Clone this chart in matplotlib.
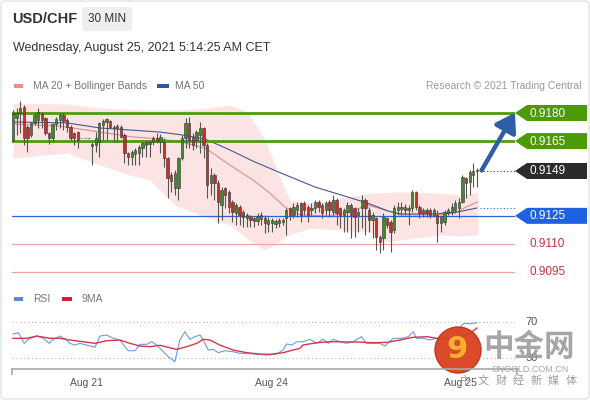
import numpy as np
import matplotlib
matplotlib.use("Agg")
import matplotlib.pyplot as plt
from matplotlib.patches import Polygon, Rectangle, Circle, FancyBboxPatch
from matplotlib.transforms import blended_transform_factory

plt.rcParams['font.family'] = ['Liberation Sans', 'DejaVu Sans']

# 30 min candles, USD/CHF (Aug 20 -> Aug 25)
opens = [
    0.91656, 0.91771, 0.91798, 0.91834, 0.91727, 0.91682, 0.91745, 0.91763, 0.91793, 0.91771,
    0.91691, 0.91665, 0.91739, 0.91763, 0.91789, 0.91763, 0.91727, 0.91691, 0.91697, 0.91668,
    0.91668, 0.91668, 0.91625, 0.91629, 0.91647, 0.91736, 0.91754, 0.91757, 0.91727, 0.91718,
    0.91727, 0.91682, 0.91584, 0.91566, 0.91579, 0.91584, 0.91611, 0.91629, 0.91632, 0.91643,
    0.91668, 0.91647, 0.91647, 0.91558, 0.91468, 0.91397, 0.91397, 0.91558, 0.91665, 0.91745,
    0.91673, 0.91656, 0.91682, 0.91718, 0.91629, 0.91424, 0.91468, 0.91424, 0.91308, 0.91397,
    0.91379, 0.91326, 0.91263, 0.91299, 0.91272, 0.91237, 0.91246, 0.91237, 0.91222, 0.91233,
    0.91240, 0.91205, 0.91210, 0.91205, 0.91210, 0.91215, 0.91237, 0.91290, 0.91255, 0.91281,
    0.91317, 0.91317, 0.91299, 0.91281, 0.91290, 0.91326, 0.91308, 0.91281, 0.91326, 0.91272,
    0.91335, 0.91290, 0.91255, 0.91272, 0.91308, 0.91290, 0.91255, 0.91290, 0.91335, 0.91281,
    0.91228, 0.91237, 0.91139, 0.91130, 0.91237, 0.91219, 0.91174, 0.91281, 0.91287, 0.91299,
    0.91281, 0.91290, 0.91376, 0.91299, 0.91263, 0.91281, 0.91281, 0.91255, 0.91255, 0.91210,
    0.91219, 0.91263, 0.91272, 0.91281, 0.91290, 0.91326, 0.91451, 0.91433, 0.91468, 0.91495,
]
highs = [
    0.91816, 0.91825, 0.91864, 0.91843, 0.91736, 0.91754, 0.91807, 0.91829, 0.91807, 0.91780,
    0.91700, 0.91745, 0.91780, 0.91798, 0.91798, 0.91771, 0.91736, 0.91700, 0.91704, 0.91668,
    0.91668, 0.91668, 0.91647, 0.91700, 0.91754, 0.91768, 0.91775, 0.91763, 0.91736, 0.91739,
    0.91736, 0.91691, 0.91593, 0.91602, 0.91611, 0.91629, 0.91647, 0.91656, 0.91656, 0.91679,
    0.91691, 0.91686, 0.91665, 0.91566, 0.91486, 0.91495, 0.91566, 0.91682, 0.91771, 0.91780,
    0.91691, 0.91709, 0.91754, 0.91727, 0.91638, 0.91504, 0.91477, 0.91442, 0.91406, 0.91406,
    0.91388, 0.91335, 0.91317, 0.91308, 0.91281, 0.91263, 0.91255, 0.91246, 0.91263, 0.91272,
    0.91255, 0.91246, 0.91237, 0.91233, 0.91237, 0.91240, 0.91290, 0.91299, 0.91317, 0.91326,
    0.91326, 0.91329, 0.91308, 0.91317, 0.91335, 0.91335, 0.91317, 0.91329, 0.91335, 0.91361,
    0.91344, 0.91299, 0.91290, 0.91326, 0.91317, 0.91299, 0.91290, 0.91361, 0.91344, 0.91299,
    0.91272, 0.91246, 0.91148, 0.91263, 0.91246, 0.91228, 0.91308, 0.91326, 0.91326, 0.91312,
    0.91308, 0.91388, 0.91383, 0.91308, 0.91290, 0.91290, 0.91290, 0.91290, 0.91281, 0.91255,
    0.91281, 0.91290, 0.91317, 0.91335, 0.91344, 0.91468, 0.91460, 0.91495, 0.91531, 0.91504,
]
lows = [
    0.91647, 0.91682, 0.91691, 0.91629, 0.91593, 0.91673, 0.91736, 0.91718, 0.91718, 0.91682,
    0.91632, 0.91647, 0.91709, 0.91718, 0.91709, 0.91700, 0.91656, 0.91629, 0.91611, 0.91668,
    0.91668, 0.91668, 0.91522, 0.91593, 0.91566, 0.91656, 0.91656, 0.91718, 0.91647, 0.91647,
    0.91665, 0.91531, 0.91522, 0.91522, 0.91522, 0.91522, 0.91566, 0.91566, 0.91566, 0.91629,
    0.91638, 0.91584, 0.91513, 0.91344, 0.91379, 0.91361, 0.91335, 0.91549, 0.91611, 0.91611,
    0.91602, 0.91611, 0.91584, 0.91558, 0.91344, 0.91361, 0.91335, 0.91210, 0.91228, 0.91290,
    0.91263, 0.91219, 0.91201, 0.91201, 0.91192, 0.91192, 0.91192, 0.91192, 0.91201, 0.91201,
    0.91157, 0.91165, 0.91165, 0.91183, 0.91192, 0.91201, 0.91148, 0.91228, 0.91237, 0.91246,
    0.91219, 0.91255, 0.91219, 0.91255, 0.91263, 0.91272, 0.91237, 0.91255, 0.91246, 0.91255,
    0.91201, 0.91183, 0.91165, 0.91165, 0.91130, 0.91139, 0.91165, 0.91183, 0.91148, 0.91165,
    0.91130, 0.91067, 0.91050, 0.91067, 0.91183, 0.91058, 0.91157, 0.91255, 0.91255, 0.91255,
    0.91201, 0.91272, 0.91281, 0.91237, 0.91246, 0.91246, 0.91237, 0.91246, 0.91112, 0.91165,
    0.91201, 0.91255, 0.91255, 0.91263, 0.91237, 0.91317, 0.91344, 0.91361, 0.91406, 0.91406,
]
closes = [
    0.91798, 0.91798, 0.91829, 0.91665, 0.91665, 0.91745, 0.91789, 0.91807, 0.91763, 0.91691,
    0.91665, 0.91739, 0.91768, 0.91789, 0.91757, 0.91727, 0.91665, 0.91665, 0.91656, 0.91668,
    0.91668, 0.91668, 0.91632, 0.91665, 0.91745, 0.91757, 0.91768, 0.91727, 0.91718, 0.91732,
    0.91673, 0.91584, 0.91566, 0.91593, 0.91602, 0.91620, 0.91638, 0.91647, 0.91647, 0.91668,
    0.91650, 0.91673, 0.91558, 0.91451, 0.91436, 0.91477, 0.91558, 0.91665, 0.91745, 0.91656,
    0.91629, 0.91700, 0.91718, 0.91629, 0.91415, 0.91468, 0.91424, 0.91326, 0.91388, 0.91361,
    0.91299, 0.91272, 0.91308, 0.91255, 0.91246, 0.91255, 0.91228, 0.91222, 0.91251, 0.91255,
    0.91210, 0.91228, 0.91228, 0.91222, 0.91228, 0.91228, 0.91281, 0.91255, 0.91299, 0.91308,
    0.91255, 0.91281, 0.91255, 0.91294, 0.91326, 0.91299, 0.91263, 0.91317, 0.91281, 0.91335,
    0.91263, 0.91255, 0.91281, 0.91308, 0.91255, 0.91246, 0.91272, 0.91335, 0.91290, 0.91228,
    0.91255, 0.91139, 0.91112, 0.91246, 0.91201, 0.91165, 0.91290, 0.91299, 0.91299, 0.91281,
    0.91294, 0.91379, 0.91299, 0.91263, 0.91281, 0.91263, 0.91255, 0.91281, 0.91210, 0.91246,
    0.91272, 0.91281, 0.91299, 0.91317, 0.91326, 0.91460, 0.91424, 0.91486, 0.91490, 0.91490,
]

# indicator lines (candle index, value)
band_idx = [0, 15, 24.2, 32.5, 38.1, 45, 52, 60.3, 65.3, 70.1, 74.5, 77, 82.6, 90.9,
            99.3, 103.4, 107.6, 118.7, 124.3, 129.3]
band_upper = [0.91853, 0.91848, 0.91827, 0.91820, 0.91816, 0.91816, 0.91822, 0.91843,
              0.91805, 0.91656, 0.91442, 0.91335, 0.91319, 0.91345, 0.91372, 0.91375,
              0.91378, 0.91372, 0.91361, 0.91378]
band_lower = [0.91559, 0.91586, 0.91522, 0.91468, 0.91440, 0.91308, 0.91255, 0.91201,
              0.91125, 0.91067, 0.91120, 0.91150, 0.91185, 0.91174, 0.91164, 0.91110,
              0.91121, 0.91148, 0.91142, 0.91148]

ma20_idx = [0, 13.1, 24.2, 33.4, 40.9, 46.7, 53.4, 60.3, 66.7, 71.4, 75.6, 79.8, 88.1,
            93.7, 98.7, 103.4, 107.9, 117.3, 122.9, 125.9, 129.2]
ma20 = [0.91741, 0.91730, 0.91698, 0.91672, 0.91661, 0.91645, 0.91613, 0.91522, 0.91442,
        0.91372, 0.91297, 0.91255, 0.91249, 0.91271, 0.91308, 0.91281, 0.91255, 0.91255,
        0.91265, 0.91297, 0.91324]

ma50_idx = [0, 15.0, 24.2, 40.9, 47.3, 53.4, 59.8, 66.7, 74.5, 84.0, 93.1, 99.3, 104.3,
            107.9, 117.3, 123.7, 129]
ma50 = [0.91752, 0.91747, 0.91720, 0.91698, 0.91682, 0.91661, 0.91607, 0.91543, 0.91479,
        0.91404, 0.91351, 0.91313, 0.91276, 0.91260, 0.91260, 0.91271, 0.91292]

rsi_idx = [0, 1.5, 2.1, 3.1, 4.3, 6.6, 8.4, 10.1, 11.2, 13.1, 14.9, 15.8, 17.2, 18.6, 20.5,
           22.8, 24.2, 26.0, 27.9, 29.7, 31.1, 32.1, 33.9, 35.3, 37.2, 38.6, 40.0, 41.8,
           43.2, 45.0, 46.4, 47.8, 49.2, 50.6, 52.0, 52.9, 54.3, 55.7, 57.1, 58.9, 61.2,
           63.1, 65.4, 67.7, 70.5, 73.3, 75.1, 76.1, 77.5, 78.9, 80.7, 82.6, 84.4, 86.3,
           87.7, 89.1, 90.9, 92.8, 94.6, 96.9, 98.3, 100.2, 102.0, 103.4, 105.7, 108.1,
           109.9, 111.3, 112.2, 114.1, 115.9, 117.8, 120.1, 122.0, 123.7, 124.8, 125.7,
           127.1, 129]
rsi = [56.7, 58.1, 53.7, 46.3, 50.8, 54.4, 51.9, 46.3, 50.8, 54.4, 50.0, 46.3, 44.4, 46.3,
       44.4, 41.9, 54.4, 55.6, 51.9, 50.0, 42.6, 38.1, 38.1, 45.2, 45.2, 48.1, 44.4, 37.0,
       31.4, 25.9, 50.0, 59.2, 50.8, 53.7, 55.6, 50.0, 38.9, 39.6, 35.9, 38.1, 37.0, 35.2,
       35.2, 34.1, 33.3, 34.4, 38.9, 45.6, 44.4, 48.0, 48.1, 50.8, 46.3, 50.8, 46.3, 50.8,
       48.1, 46.3, 48.1, 53.7, 46.3, 46.3, 46.3, 43.3, 51.9, 51.9, 53.7, 59.2, 51.9, 51.9,
       50.0, 51.9, 50.0, 47.8, 55.6, 66.7, 68.6, 68.1, 69.2]

ma9_idx = [0, 3.8, 6.6, 10.3, 13.1, 15.8, 19.5, 22.8, 26.0, 29.7, 32.5, 35.3, 38.1, 40.9,
           43.6, 45.5, 48.3, 51.1, 52.9, 54.8, 57.5, 61.2, 65.0, 68.7, 71.4, 75.1, 77.9,
           79.8, 80.6, 84.5, 88.1, 95.6, 100.1, 104.0, 107.6, 111.2, 115.1, 117.9, 121.5,
           124.8, 127.1, 129]
ma9 = [51.9, 51.9, 54.4, 51.9, 51.9, 50.0, 48.1, 46.3, 49.2, 50.0, 46.3, 43.3, 42.6, 44.1,
       41.4, 39.6, 42.6, 46.3, 50.8, 50.0, 44.4, 38.9, 35.9, 34.4, 34.1, 35.9, 38.9, 40.8,
       44.4, 47.0, 48.1, 47.8, 47.0, 47.4, 50.0, 53.0, 53.7, 51.9, 52.2, 54.4, 57.4, 63.3]

levels = [0.9180, 0.9165, 0.9149, 0.9125, 0.9110, 0.9095]
level_labels = ['0.9180', '0.9165', '0.9149', '0.9125', '0.9110', '0.9095']
date_idx = [20.3, 72.0, 124.5]
date_labels = ['Aug 21', 'Aug 24', 'Aug 25']

W, H = 590, 400
fig = plt.figure(figsize=(5.9, 4), dpi=100)
fig.patch.set_facecolor('white')


def px_rect(x0, y0, x1, y1):
    return [x0 / W, 1 - y1 / H, (x1 - x0) / W, (y1 - y0) / H]


XLIM = (-0.28, 139.6)

ax = fig.add_axes(px_rect(12, 95, 515, 282))
ax.set_xlim(*XLIM)
ax.set_ylim(0.908963, 0.918963)
ax.axis('off')

rax = fig.add_axes(px_rect(12, 305, 515, 369))
rax.set_xlim(*XLIM)
rax.set_ylim(17.8, 88.9)
rax.axis('off')

ov = fig.add_axes([0, 0, 1, 1], zorder=5)
ov.set_xlim(0, W)
ov.set_ylim(H, 0)
ov.axis('off')
ov.patch.set_visible(False)

# --- price panel ---
ax.fill_between(band_idx, band_lower, band_upper, color='#fde4e4', lw=0, zorder=1)
ax.plot(ma20_idx, ma20, color='#e58c8c', lw=0.8, zorder=2)
ax.plot(ma50_idx, ma50, color='#45578f', lw=0.8, zorder=2)

ax.axhline(levels[0], color='#4f9a12', lw=2.0, zorder=2)
ax.axhline(levels[1], color='#4f9a12', lw=2.0, zorder=2)
ax.axhline(levels[3], color='#2f62d4', lw=0.9, zorder=2)
ax.axhline(levels[4], color='#f3a3a3', lw=0.9, zorder=2)
ax.axhline(levels[5], color='#f3a3a3', lw=0.9, zorder=2)

idx = np.arange(len(closes))
o = np.array(opens)
c = np.array(closes)
up = c >= o
ax.vlines(idx, lows, highs, color='#555555', lw=0.8, zorder=3)
ax.bar(idx, np.abs(c - o), bottom=np.minimum(o, c), width=0.65,
       color=np.where(up, '#3f8a2a', '#c42f2c'), edgecolor='#333333', lw=0.4, zorder=4)

last = len(closes) - 1
ax.plot([last + 0.8, XLIM[1]], [levels[2], levels[2]], color='#333333', lw=0.8,
        ls=(0, (1, 2)), zorder=3)
ax.plot([last + 0.8, XLIM[1]], [ma50[-1], ma50[-1]], color='#2f62d4', lw=0.8,
        ls=(0, (1, 2)), zorder=3)

ax.annotate('', xy=(XLIM[1], levels[0] + 0.00002), xytext=(last + 1.3, closes[-1] + 0.00003),
            arrowprops=dict(arrowstyle='-|>,head_width=0.45,head_length=0.7', lw=3.2,
                            color='#2e5fa6', mutation_scale=16, shrinkA=0, shrinkB=0),
            annotation_clip=False, zorder=6)

# price tags on the right
box_colors = {0: '#4c9a08', 1: '#4c9a08', 2: '#2b2b2b', 3: '#1f62e0'}
for k, lvl in enumerate(levels):
    yp = H - ax.transData.transform((0, lvl))[1]
    if k in box_colors:
        ov.add_patch(Polygon([(515, yp), (527, yp - 8), (587, yp - 8), (587, yp + 8),
                              (527, yp + 8)], closed=True, fc=box_colors[k], ec='none'))
        ov.text(530, yp + 0.5, level_labels[k], color='white', fontsize=8.5, va='center')
    else:
        ov.text(530, yp + 0.5, level_labels[k], color='#c8323c', fontsize=8.5, va='center')

# --- RSI panel ---
rax.axhline(70, color='#bbbbbb', lw=0.8, ls=(0, (1, 2.5)))
rax.axhline(30, color='#bbbbbb', lw=0.8, ls=(0, (1, 2.5)))
rax.plot(rsi_idx, rsi, color='#6d9be0', lw=0.8)
rax.plot(ma9_idx, ma9, color='#d8344f', lw=1.0)
for val in (70, 30):
    yp = H - rax.transData.transform((0, val))[1]
    ov.text(532, yp, str(val), fontsize=8, color='#555555', va='center', ha='center')

ov.plot([12, 518], [369, 369], color='#a8a8a8', lw=1.2)
ov.plot([12, 12], [369, 374], color='#a8a8a8', lw=1.2)
ov.plot([517, 517], [369, 374], color='#a8a8a8', lw=1.2)
bt = blended_transform_factory(rax.transData, ov.transData)
for xi, lab in zip(date_idx, date_labels):
    ov.text(xi, 383, lab, transform=bt, fontsize=7.5, color='#555555', ha='center', va='center')

# --- header & legends ---
ov.text(12, 19, 'USD/CHF', fontsize=10.5, fontweight='bold', color='#333333', va='center')
ov.add_patch(FancyBboxPatch((82, 7), 50, 24, boxstyle='round,pad=0,rounding_size=3',
                            fc='#efefef', ec='none'))
ov.text(107, 19, '30 MIN', fontsize=8.5, color='#333333', ha='center', va='center')
ov.text(13, 48, 'Wednesday, August 25, 2021 5:14:25 AM CET', fontsize=9,
        color='#333333', va='center')

ov.add_patch(Rectangle((14, 84), 9, 4, fc='#f08c8c', ec='none'))
ov.text(33, 86, 'MA 20 + Bollinger Bands', fontsize=7.5, color='#777777', va='center')
ov.add_patch(Rectangle((157, 84), 12, 4, fc='#2f5a94', ec='none'))
ov.text(175, 86, 'MA 50', fontsize=7.5, color='#777777', va='center')
ov.text(582, 86, 'Research \u00a9 2021 Trading Central', fontsize=7.5, color='#9a9a9a',
        ha='right', va='center')

ov.add_patch(Rectangle((14, 297), 9, 4, fc='#5b8bd6', ec='none'))
ov.text(33, 299, 'RSI', fontsize=7.5, color='#777777', va='center')
ov.add_patch(Rectangle((62, 297), 10, 4, fc='#d62030', ec='none'))
ov.text(82, 299, '9MA', fontsize=7.5, color='#777777', va='center')

# --- watermark ---
ov.add_patch(Circle((458, 350), 23, fc='#d9401f', ec='#c5301a', lw=1, alpha=0.95))
ov.text(457, 350, '9', fontsize=22, fontweight='bold', color='#f6b02e', ha='center',
        va='center', family=['DejaVu Sans'])
cjk = ['Noto Sans CJK SC', 'DejaVu Sans']
ov.text(529, 347, '中金网', fontsize=22, fontweight='bold', color='#9c9c9c', ha='center',
        va='center', family=cjk, alpha=0.9)
ov.text(530, 369, 'CNGOLD.COM.CN', fontsize=6.5, color='#9c9c9c', ha='center',
        va='center', alpha=0.9)
for k, ch in enumerate('中文财经新媒体'):
    ov.text(466 + 17.5 * k, 381, ch, fontsize=8, color='#8a8a8a', ha='center',
            va='center', family=cjk, alpha=0.85)

ov.add_patch(FancyBboxPatch((1, 1), 588, 398, boxstyle='round,pad=0,rounding_size=4',
                            fc='none', ec='#e3e3e3', lw=1))

fig.savefig('out.png', dpi=100)
